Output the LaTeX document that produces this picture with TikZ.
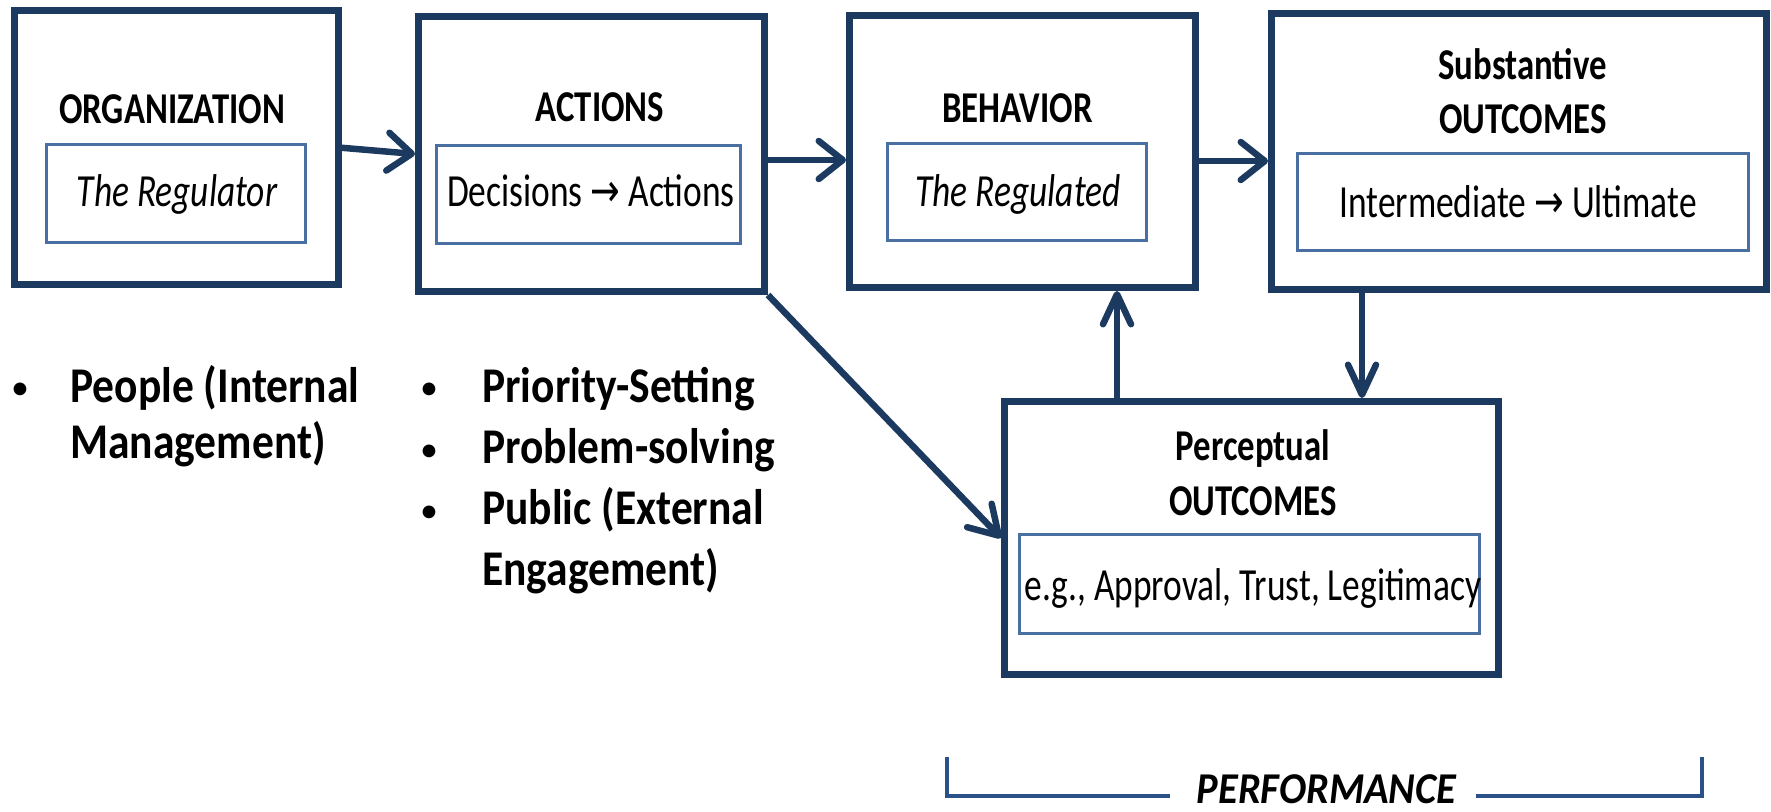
\documentclass[tikz,border=0pt]{standalone}
\usepackage{fontspec}
\setmainfont{Carlito}
\newfontfamily\tfont{Carlito}[FakeStretch=0.79]
\newfontfamily\sfont{Carlito}[FakeStretch=0.77]
\newfontfamily\bfont{Carlito}[FakeStretch=0.87]
\newfontfamily\pfont{Carlito}[FakeStretch=0.92]
\newfontfamily\afont{DejaVu Sans}[FakeStretch=0.77]
\usetikzlibrary{arrows.meta}
\definecolor{navy}{HTML}{1C3A60}
\definecolor{inblue}{HTML}{4A6FA3}
\definecolor{brblue}{HTML}{2B5288}
\begin{document}
\begin{tikzpicture}[x=0.5pt,y=-0.5pt,
  outerbox/.style={draw=navy,line width=3.5pt,inner sep=0pt,fill=white},
  innerbox/.style={draw=inblue,line width=1.4pt,inner sep=0pt},
  ttl/.style={anchor=base,inner sep=0pt,font=\tfont\bfseries\fontsize{22pt}{26pt}\selectfont},
  sub/.style={anchor=base,inner sep=0pt,font=\sfont\fontsize{23pt}{27pt}\selectfont},
  subit/.style={anchor=base,inner sep=0pt,font=\sfont\itshape\fontsize{23pt}{27pt}\selectfont},
  blt/.style={anchor=base,inner sep=0pt,font=\fontsize{18pt}{22pt}\selectfont},
  btxt/.style={anchor=base west,inner sep=0pt,font=\bfont\bfseries\fontsize{25pt}{30pt}\selectfont},
  arrH/.style={draw=navy,line width=3.25pt,-{Straight Barb[length=12pt,width=19pt,line cap=round,line join=round]}},
  arrV/.style={draw=navy,line width=3.25pt,-{Straight Barb[length=15pt,width=14pt,line cap=round,line join=round]}},
  arrD/.style={draw=navy,line width=3.25pt,-{Straight Barb[length=14pt,width=17pt,line cap=round,line join=round]}},
  brk/.style={draw=brblue,line width=2.25pt}
]
\useasboundingbox (0,0) rectangle (1771,812);

% outer boxes
\node[outerbox,minimum width=162pt,minimum height=137.25pt] (org) at (176,147.75) {};
\node[outerbox,minimum width=173pt,minimum height=137.5pt] (act) at (591.5,154) {};
\node[outerbox,minimum width=173pt,minimum height=136pt] (beh) at (1022.5,151.5) {};
\node[outerbox,minimum width=247.5pt,minimum height=138pt] (sub) at (1519,151.5) {};
\node[outerbox,minimum width=247pt,minimum height=136.5pt] (perc) at (1251.5,538) {};

% inner boxes
\node[innerbox,minimum width=129.5pt,minimum height=49pt] (orgi) at (176,193.5) {};
\node[innerbox,minimum width=152pt,minimum height=49pt] (acti) at (588.5,194.5) {};
\node[innerbox,minimum width=129.5pt,minimum height=48.5pt] (behi) at (1017,192) {};
\node[innerbox,minimum width=225.5pt,minimum height=48.5pt] (subi) at (1523,202) {};
\node[innerbox,minimum width=230pt,minimum height=49.5pt] (perci) at (1249.5,584) {};

% texts
\node[ttl] (orgt) at (172,124) {ORGANIZATION};
\node[subit] (orgs) at (177,207) {The Regulator};
\node[ttl] (actt) at (600,122) {ACTIONS};
\node[sub] (acts) at (591,207) {Decisions {\afont →} Actions};
\node[ttl] (beht) at (1017.5,123) {BEHAVIOR};
\node[subit] (behs) at (1018,207) {The Regulated};
\node[ttl] (subt1) at (1522.5,80) {Substantive};
\node[ttl] (subt2) at (1523,134) {OUTCOMES};
\node[sub] (subs) at (1518,218) {Intermediate {\afont →} Ultimate};
\node[ttl] (perct1) at (1253,460) {Perceptual};
\node[ttl] (perct2) at (1253,515) {OUTCOMES};
\node[sub] (percs) at (1253,600) {e.g., Approval, Trust, Legitimacy};

% arrows
\draw[arrH] (org.east) -- (act.west);
\draw[arrH] ([yshift=-3pt]act.east) -- ([yshift=-3pt]act.east -| beh.west);
\draw[arrH] ([yshift=-4.75pt]beh.east) -- ([yshift=-4.75pt]beh.east -| sub.west);
\draw[arrV] ([xshift=-78.5pt]sub.south) -- ([xshift=-78.5pt]sub.south |- perc.north);
\draw[arrV] ([xshift=-67.25pt]perc.north) -- ([xshift=-67.25pt]perc.north |- beh.south);
\draw[arrD] (act.south east) -- (perc.west);

% bullets
\node[blt] (b1) at (20,400) {•};
\node[btxt] (t1a) at (70,402) {People (Internal};
\node[btxt] (t1b) at (70,458) {Management)};
\node[blt] (b2) at (429,400) {•};
\node[blt] (b3) at (429,461) {•};
\node[blt] (b4) at (429,522) {•};
\node[btxt] (t2) at (482,402) {Priority-Setting};
\node[btxt] (t3) at (482,463) {Problem-solving};
\node[btxt] (t4a) at (482,524) {Public (External};
\node[btxt] (t4b) at (482,585) {Engagement)};

% performance bracket
\node[anchor=base,inner sep=0pt,text depth=0pt,font=\pfont\bfseries\itshape\fontsize{22pt}{26pt}\selectfont] (perf) at (1326.5,803) {PERFORMANCE};
\coordinate (bl) at (947,757);
\coordinate (bll) at (1170,796);
\coordinate (brr) at (1476,796);
\coordinate (br) at (1702,757);
\draw[brk] (bl) |- (bll);
\draw[brk] (brr) -| (br);
\end{tikzpicture}
\end{document}
